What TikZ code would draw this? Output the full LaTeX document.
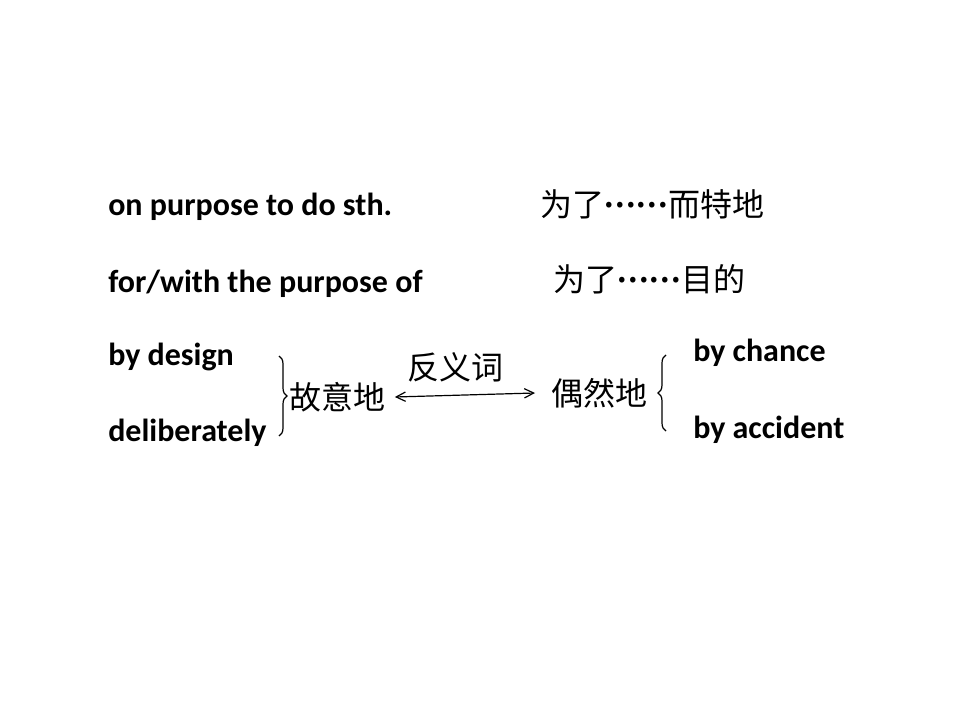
\documentclass[tikz,border=0pt]{standalone}
\usepackage{fontspec}
\setmainfont{Carlito}
\newfontfamily\cjk{Noto Sans CJK SC}
\newcommand\zhdot{\makebox[0pt]{\raisebox{0.28em}{\scalebox{1.3}{.}}}}
\newcommand\zhdots{\makebox[2em][s]{\hspace{0.17em}\zhdot\hfil\zhdot\hfil\zhdot\hfil\zhdot\hfil\zhdot\hfil\zhdot\hspace{0.17em}}}
\usetikzlibrary{arrows.meta,decorations.pathreplacing}
\begin{document}
\begin{tikzpicture}[x=0.75pt,y=-0.75pt,
  en/.style={anchor=base west,inner sep=0pt,font=\fontsize{24}{28}\selectfont\bfseries},
  zh/.style={anchor=west,inner sep=0pt,font=\fontsize{24}{28}\selectfont\cjk},
  br/.style={decorate,decoration={brace,amplitude=6pt},line width=0.9pt}]
\useasboundingbox (0,0) rectangle (960,720);
\node[en] (a) at (108,216) {on purpose to do sth.};
\node[en] (b) at (108,292) {for/with the purpose of};
\node[en] (c) at (108,365) {by design};
\node[en] (d) at (108,441) {deliberately};
\node[en] (e) at (693,361) {by chance};
\node[en] (f) at (693,438) {by accident};
\node[zh] (za) at (540,204) {为了\zhdots 而特地};
\node[zh] (zb) at (553,279) {为了\zhdots 目的};
\node[zh] (gy) at (289,397) {故意地};
\node[zh] (fy) at (407,367) {反义词};
\node[zh] (ou) at (551,393) {偶然地};
\coordinate (b1) at (279,356);
\coordinate (b2) at (279,436);
\coordinate (b3) at (666,355);
\coordinate (b4) at (666,431);
\draw[br] (b1) -- (b2);
\draw[br] (b4) -- (b3);
\draw[{Straight Barb[length=7pt,width=7pt]}-{Straight Barb[length=7pt,width=7pt]},line width=0.9pt] ([xshift=7]gy.east) -- ([xshift=-12]ou.west);
\end{tikzpicture}
\end{document}
